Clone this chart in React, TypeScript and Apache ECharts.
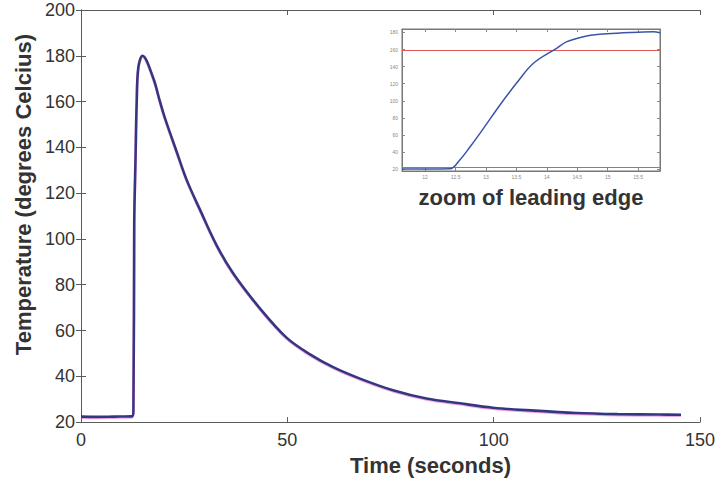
import React, { useEffect, useRef } from "react";
import * as echarts from "echarts";

// Main trace: time (s) vs temperature (°C)
const timeSec = [0, 4, 8, 12.3, 12.7, 12.9, 13.2, 13.5, 13.9, 14.9, 17.5, 19.1, 20.3, 23.2, 25.6, 28.8, 32.9, 36.9, 43.3, 49.8, 55.4, 61.1, 67.6, 75.6, 83.7, 91.8, 99.8, 110, 120, 130, 140, 145.4];
const tempC = [22.4, 22.3, 22.4, 22.5, 25, 107, 134, 160, 175, 180, 170.3, 160.2, 153, 138, 125.8, 112.9, 97.1, 84.9, 69.8, 56.9, 49.7, 44, 39, 33.9, 30.3, 28.2, 26.3, 25, 24, 23.5, 23.3, 23.2];

// Inset: zoom of leading edge
const zoomTime = [11.62, 12.0, 12.41, 12.57, 12.74, 12.96, 13.23, 13.5, 13.78, 14.16, 14.33, 14.6, 14.87, 15.25, 15.5, 15.75, 15.86];
const zoomTemp = [20.3, 20.3, 20.5, 30.9, 46.4, 67.9, 95.2, 120.5, 143.9, 161.4, 169.2, 175, 177.8, 179.5, 180.3, 180.7, 179.5];
const zoomRefLevels = [159.6, 22.3];

const zoomXTicks = [12, 12.5, 13, 13.5, 14, 14.5, 15, 15.5];
const zoomYTicks = [20, 40, 60, 80, 100, 120, 140, 160, 180];

const FONT = "'Liberation Sans', Arial, Helvetica, sans-serif";
const AXIS_COLOR = "#5a5a5a";
const RED = "#e05a5a";

export default function App() {
  const ref = useRef<HTMLDivElement>(null);

  useEffect(() => {
    if (!ref.current) return;
    const chart = echarts.init(ref.current, null, { renderer: "svg" });

    const mainTickCommon = {
      show: true,
      inside: true,
      length: 5,
      lineStyle: { color: AXIS_COLOR, width: 1 },
    };
    const insetTick = {
      show: true,
      inside: true,
      length: 3,
      lineStyle: { color: "#888", width: 1 },
    };

    chart.setOption({
      animation: false,
      backgroundColor: "#ffffff",
      textStyle: { fontFamily: FONT },
      grid: [
        { left: 81, right: 19, top: 10, bottom: 52, show: false },
        {
          left: 402,
          top: 29,
          width: 258,
          height: 142,
          show: true,
          backgroundColor: "#ffffff",
          borderColor: "#777",
          borderWidth: 1,
        },
      ],
      xAxis: [
        {
          type: "value",
          gridIndex: 0,
          min: 0,
          max: 150,
          interval: 50,
          name: "Time (seconds)",
          nameLocation: "middle",
          nameGap: 25,
          nameTextStyle: {
            fontSize: 22,
            fontWeight: "bold",
            color: "#333",
            fontFamily: FONT,
            padding: [0, 0, 0, 80],
          },
          axisLine: { show: true, lineStyle: { color: AXIS_COLOR, width: 1 } },
          axisTick: mainTickCommon,
          axisLabel: { fontSize: 18, color: "#333", margin: 9, fontFamily: FONT },
          splitLine: { show: false },
        },
        {
          type: "value",
          gridIndex: 0,
          position: "top",
          min: 0,
          max: 150,
          interval: 50,
          axisLine: { show: true, lineStyle: { color: AXIS_COLOR, width: 1 } },
          axisTick: mainTickCommon,
          axisLabel: { show: false },
          splitLine: { show: false },
        },
        {
          type: "value",
          gridIndex: 1,
          min: 11.62,
          max: 15.86,
          name: "zoom of leading edge",
          nameLocation: "middle",
          nameGap: 15,
          nameTextStyle: {
            fontSize: 22,
            fontWeight: "bold",
            color: "#333",
            fontFamily: FONT,
          },
          axisLine: { show: true, lineStyle: { color: "#777", width: 1 } },
          axisTick: { ...insetTick, customValues: zoomXTicks },
          axisLabel: {
            customValues: zoomXTicks,
            fontSize: 5,
            color: "#888",
            margin: 3,
            fontFamily: FONT,
          },
          splitLine: { show: false },
        },
        {
          type: "value",
          gridIndex: 1,
          position: "top",
          min: 11.62,
          max: 15.86,
          axisLine: { show: true, lineStyle: { color: "#8a7070", width: 1 } },
          axisTick: { ...insetTick, customValues: zoomXTicks },
          axisLabel: { show: false },
          splitLine: { show: false },
        },
      ],
      yAxis: [
        {
          type: "value",
          gridIndex: 0,
          min: 20,
          max: 200,
          interval: 20,
          name: "Temperature (degrees Celcius)",
          nameLocation: "middle",
          nameGap: 46,
          nameTextStyle: {
            fontSize: 22,
            fontWeight: "bold",
            color: "#333",
            fontFamily: FONT,
            padding: [0, 0, 0, 43],
          },
          axisLine: { show: true, lineStyle: { color: AXIS_COLOR, width: 1 } },
          axisTick: mainTickCommon,
          axisLabel: { fontSize: 18, color: "#333", margin: 6, fontFamily: FONT },
          splitLine: { show: false },
        },
        {
          type: "value",
          gridIndex: 0,
          position: "right",
          min: 20,
          max: 200,
          interval: 20,
          axisLine: { show: true, lineStyle: { color: AXIS_COLOR, width: 1 } },
          axisTick: mainTickCommon,
          axisLabel: { show: false },
          splitLine: { show: false },
        },
        {
          type: "value",
          gridIndex: 1,
          min: 18,
          max: 184,
          axisLine: { show: true, lineStyle: { color: "#777", width: 1 } },
          axisTick: { ...insetTick, customValues: zoomYTicks },
          axisLabel: {
            customValues: zoomYTicks,
            fontSize: 5,
            color: "#888",
            margin: 4,
            fontFamily: FONT,
          },
          splitLine: { show: false },
        },
        {
          type: "value",
          gridIndex: 1,
          position: "right",
          min: 18,
          max: 184,
          axisLine: { show: true, lineStyle: { color: "#777", width: 1 } },
          axisTick: { ...insetTick, customValues: zoomYTicks },
          axisLabel: { show: false },
          splitLine: { show: false },
        },
      ],
      series: [
        {
          type: "line",
          name: "Temperature",
          xAxisIndex: 0,
          yAxisIndex: 0,
          data: timeSec.map((t, i) => [t, tempC[i]]),
          showSymbol: false,
          smooth: 0.35,
          lineStyle: {
            color: "#323780",
            width: 2.6,
            shadowColor: "rgba(220,80,200,0.5)",
            shadowBlur: 1,
            shadowOffsetY: 1,
          },
          z: 2,
        },
        {
          type: "line",
          name: "Leading edge",
          xAxisIndex: 2,
          yAxisIndex: 2,
          data: zoomTime.map((t, i) => [t, zoomTemp[i]]),
          showSymbol: false,
          smooth: 0.35,
          lineStyle: { color: "#3a55a8", width: 1.5 },
          z: 6,
          markLine: {
            silent: true,
            symbol: "none",
            label: { show: false },
            z: 5,
            itemStyle: { color: RED },
            lineStyle: { color: RED, width: 1, type: "solid", opacity: 1 },
            data: zoomRefLevels.map((v) => ({
              yAxis: v,
              lineStyle: { color: RED, width: 1, type: "solid" },
            })),
          },
        },
      ],
    });

    return () => chart.dispose();
  }, []);

  return (
    <div
      ref={ref}
      style={{ position: "absolute", left: 0, top: 0, width: 719, height: 481 }}
    />
  );
}
